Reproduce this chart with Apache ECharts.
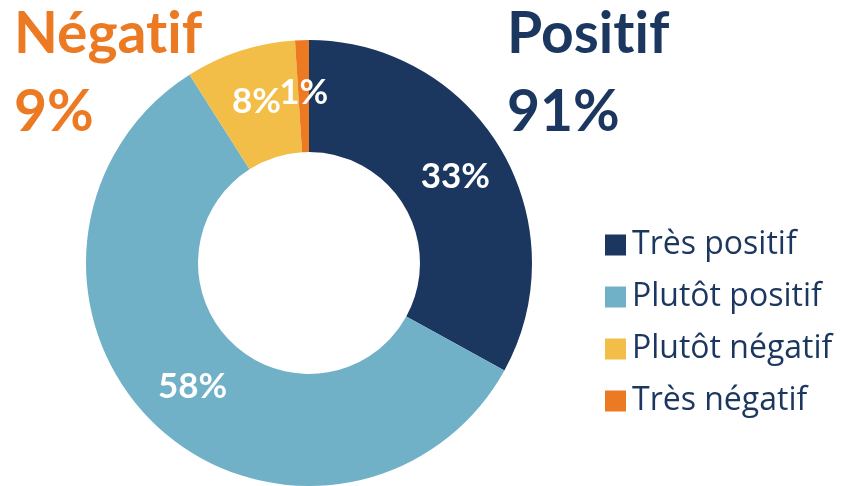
<!DOCTYPE html>
<html><head><meta charset="utf-8">
<script src="https://cdn.jsdelivr.net/npm/echarts@6/dist/echarts.min.js"></script>
<style>html,body{margin:0;padding:0;background:#fff}#c{width:842px;height:486px}</style>
</head><body><div id="c"></div>
<script>
const categories = ['Très positif', 'Plutôt positif', 'Plutôt négatif', 'Très négatif'];
const values = [33, 58, 8, 1];
const colors = ['#1C375F', '#70B1C8', '#F2BE48', '#EB7A22'];
// split so the renderer does not form a "ti" ligature
const groupLabels = [['Négat', 'if'], ['Posit', 'if']];
const groupValues = ['9%', '91%'];

function titleText(parts, color) {
  return {
    text: '{a|' + parts[0] + '}{a|' + parts[1] + '}',
    rich: { a: { fontFamily: 'Lato', fontWeight: 'bold', fontSize: 57, fill: color, color: color } }
  };
}

const chart = echarts.init(document.getElementById('c'));
chart.setOption({
  animation: false,
  color: colors,
  legend: {
    orient: 'vertical',
    left: 600, top: 224,
    itemWidth: 21, itemHeight: 21, itemGap: 20,
    icon: 'rect',
    textStyle: { fontFamily: 'Open Sans', fontSize: 32, color: '#1C375F', padding: [0, 0, 0, 1] },
    data: categories
  },
  graphic: [
    { type: 'text', left: 14, top: 6, style: titleText(groupLabels[0], '#EB7A22') },
    { type: 'text', left: 14, top: 84, style: { text: groupValues[0], font: 'bold 57px Lato', fill: '#EB7A22' } },
    { type: 'text', left: 507, top: 6, style: titleText(groupLabels[1], '#1C375F') },
    { type: 'text', left: 507, top: 84, style: { text: groupValues[1], font: 'bold 57px Lato', fill: '#1C375F' } }
  ],
  series: [{
    type: 'pie',
    center: [309, 263],
    radius: [111, 223],
    startAngle: 90,
    clockwise: true,
    avoidLabelOverlap: false,
    labelLayout: { hideOverlap: false },
    label: {
      show: true, position: 'inside',
      formatter: '{c}%',
      fontFamily: 'Lato', fontWeight: 'bold', fontSize: 35, color: '#fff'
    },
    labelLine: { show: false },
    emphasis: { disabled: true },
    data: categories.map((n, i) => ({ name: n, value: values[i] }))
  }]
});
</script></body></html>
